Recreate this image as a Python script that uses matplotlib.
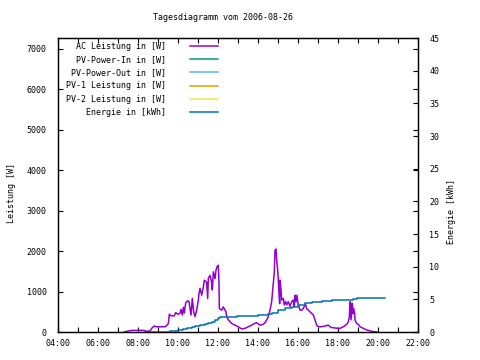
import matplotlib
matplotlib.use("Agg")
import matplotlib.pyplot as plt

plt.rcParams['font.family'] = ['DejaVu Sans Mono']
FS = 6

title = "Tagesdiagramm vom 2006-08-26"

ac_times = ["07:19", "07:31", "07:41", "08:19", "08:21", "08:36", "08:41", "08:49", "08:53",
            "09:21", "09:26", "09:31", "09:34", "09:39", "09:49", "09:53", "09:59", "10:06",
            "10:09", "10:13", "10:16", "10:19", "10:23", "10:29", "10:33", "10:39", "10:43",
            "10:47", "10:51", "10:56", "11:01", "11:03", "11:06", "11:11", "11:16", "11:19",
            "11:26", "11:29", "11:31", "11:36", "11:41", "11:43", "11:46", "11:51", "11:54",
            "11:57", "12:01", "12:03", "12:04", "12:11", "12:16", "12:21", "12:24", "12:26",
            "12:31", "12:41", "12:51", "13:01", "13:11", "13:21", "13:31", "13:41", "13:49",
            "13:56", "14:01", "14:06", "14:16", "14:23", "14:31", "14:36", "14:41", "14:46",
            "14:49", "14:51", "14:54", "14:56", "14:59", "15:01", "15:03", "15:05", "15:06",
            "15:09", "15:11", "15:16", "15:19", "15:23", "15:26", "15:31", "15:36", "15:41",
            "15:46", "15:49", "15:51", "15:54", "15:57", "15:59", "16:03", "16:06", "16:11",
            "16:16", "16:22", "16:26", "16:31", "16:36", "16:41", "16:46", "16:51", "16:56",
            "17:01", "17:11", "17:21", "17:31", "17:36", "17:41", "17:51", "18:01", "18:06",
            "18:16", "18:26", "18:31", "18:34", "18:36", "18:37", "18:39", "18:41", "18:43",
            "18:45", "18:47", "18:50", "18:51", "18:56", "19:01", "19:06", "19:16", "19:26",
            "19:36", "19:41", "19:56"]
ac_watts = [0, 25, 40, 40, 20, 20, 90, 150, 130,
            130, 160, 210, 440, 400, 400, 480, 440, 460,
            560, 420, 610, 470, 720, 770, 750, 420, 830,
            500, 380, 540, 790, 950, 1080, 910, 1110, 1280,
            1230, 830, 1330, 1400, 1230, 1040, 1490, 1320, 1530,
            1610, 1650, 1230, 580, 540, 620, 540, 500, 380,
            300, 210, 170, 130, 75, 90, 130, 170, 210,
            230, 200, 170, 190, 250, 380, 540, 750, 1200,
            1490, 2020, 2050, 1780, 1530, 1280, 950, 700, 1280,
            1040, 790, 830, 670, 750, 670, 750, 630, 750,
            790, 630, 910, 750, 910, 750, 630, 540, 540,
            580, 700, 580, 540, 500, 460, 420, 300, 170,
            130, 130, 150, 170, 130, 110, 100, 90, 90,
            130, 190, 250, 380, 710, 750, 300, 500, 710,
            450, 580, 450, 300, 210, 190, 130, 90, 50,
            30, 15, 0]

pv_in_times, pv_in_watts = [], []
pv_out_times, pv_out_watts = [], []
pv1_times, pv1_watts = [], []
pv2_times, pv2_watts = [], []

energy_times = ["08:39", "09:36", "10:01", "10:16", "10:26", "10:41", "10:51", "11:06", "11:21",
                "11:31", "11:41", "11:51", "12:01", "12:06", "12:31", "12:56", "13:31", "14:01",
                "14:31", "14:41", "15:01", "15:21", "15:41", "16:01", "16:21", "16:41", "17:11",
                "17:41", "18:01", "18:46", "18:56", "20:21"]
energy_kwh = [0, 0.15, 0.3, 0.46, 0.6, 0.7, 0.87, 1.0, 1.2,
              1.33, 1.58, 1.84, 2.1, 2.25, 2.35, 2.45, 2.5, 2.6,
              2.8, 2.95, 3.37, 3.6, 3.87, 4.1, 4.39, 4.64, 4.7,
              4.85, 4.9, 5.05, 5.15, 5.15]

x_ticks = ["04:00", "06:00", "08:00", "10:00", "12:00", "14:00", "16:00", "18:00", "20:00", "22:00"]
y_ticks = [0, 1000, 2000, 3000, 4000, 5000, 6000, 7000]
y2_ticks = [0, 5, 10, 15, 20, 25, 30, 35, 40, 45]

labels = ["AC Leistung in [W]", "PV-Power-In in [W]", "PV-Power-Out in [W]",
          "PV-1 Leistung in [W]", "PV-2 Leistung in [W]", "Energie in [kWh]"]
colors = ["#9400D3", "#009E73", "#56B4E9", "#E69F00", "#F0E442", "#0072B2"]


def hrs(ts):
    return [int(t[:2]) + int(t[3:]) / 60.0 for t in ts]


W, H = 480, 360
fig = plt.figure(figsize=(4.8, 3.6), dpi=100)
ax = fig.add_axes([58 / W, 1 - 332 / H, 360 / W, 294 / H])
ax2 = ax.twinx()

lw = 1.1
h1, = ax.plot(hrs(ac_times), ac_watts, color=colors[0], lw=lw)
h2, = ax.plot(hrs(pv_in_times), pv_in_watts, color=colors[1], lw=lw)
h3, = ax.plot(hrs(pv_out_times), pv_out_watts, color=colors[2], lw=lw)
h4, = ax.plot(hrs(pv1_times), pv1_watts, color=colors[3], lw=lw)
h5, = ax.plot(hrs(pv2_times), pv2_watts, color=colors[4], lw=lw)
h6, = ax2.plot(hrs(energy_times), energy_kwh, color=colors[5], lw=lw, drawstyle='steps-post')

ax.set_xlim(4, 22)
ax.set_ylim(0, 7270)
ax2.set_ylim(0, 45)

xt = hrs(x_ticks)
ax.set_xticks(xt)
ax.set_xticklabels(x_ticks, fontsize=FS)
ax.set_xticks([h + 1 for h in range(4, 21, 2)], minor=True)
ax.set_yticks(y_ticks)
ax.set_yticklabels([str(v) for v in y_ticks], fontsize=FS)
ax2.set_yticks(y2_ticks)
ax2.set_yticklabels([str(v) for v in y2_ticks], fontsize=FS)

ax.tick_params(axis='x', which='both', direction='in', length=3.5, width=0.8, top=True, pad=5)
ax.tick_params(axis='y', which='both', direction='in', length=3.5, width=0.8, right=True, pad=8)
ax2.tick_params(axis='y', direction='in', length=3.5, width=0.8, pad=8)
for a in (ax, ax2):
    for s in a.spines.values():
        s.set_linewidth(0.9)

fig.text(223 / W, 1 - 18 / H, title, fontsize=FS, ha='center', va='center')
fig.text(12 / W, 1 - 193 / H, "Leistung [W]", fontsize=FS, rotation=90, ha='center', va='center')
fig.text(452 / W, 1 - 212 / H, "Energie [kWh]", fontsize=FS, rotation=90, ha='center', va='center')

ax2.legend([h1, h2, h3, h4, h5, h6], labels, loc='upper right',
           bbox_to_anchor=(218 / W, 1 - 42 / H), bbox_transform=fig.transFigure,
           frameon=False, borderpad=0, borderaxespad=0, markerfirst=False,
           handlelength=3.36, handletextpad=2.9, labelspacing=0.5, fontsize=FS)

fig.savefig("out.png", dpi=100)
